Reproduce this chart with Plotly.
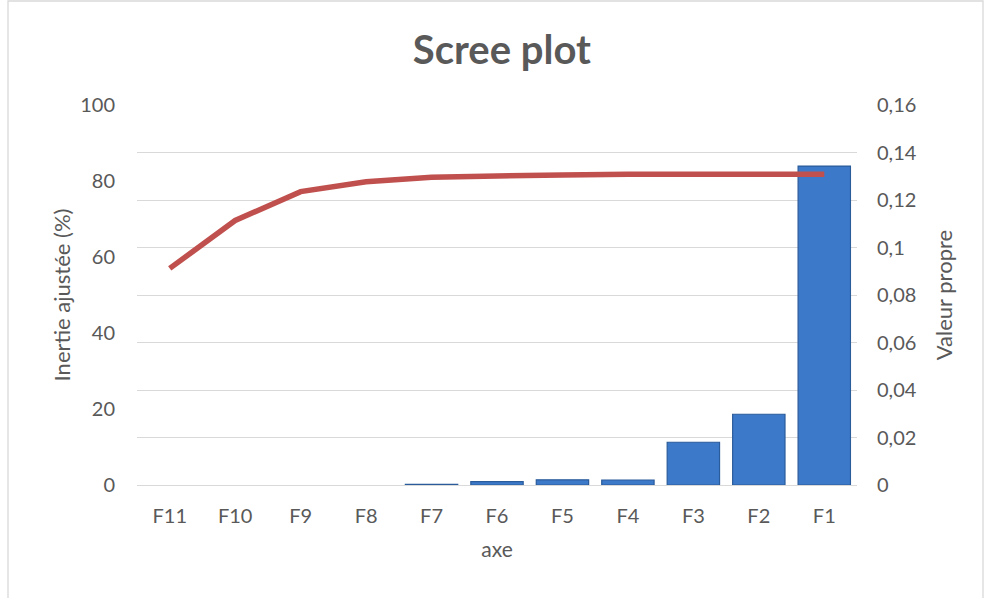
import plotly.graph_objects as go

categories = ["F11", "F10", "F9", "F8", "F7", "F6", "F5", "F4", "F3", "F2", "F1"]
valeur_propre = [0.0, 0.0, 0.0, 0.0, 0.0003, 0.0014, 0.0022, 0.0021, 0.0180, 0.0298, 0.1343]
inertie_ajustee = [57.0, 69.6, 77.2, 79.8, 81.0, 81.4, 81.6, 81.8, 81.8, 81.8, 81.8]

right_tickvals = [0, 0.02, 0.04, 0.06, 0.08, 0.1, 0.12, 0.14, 0.16]
right_ticktext = ["0", "0,02", "0,04", "0,06", "0,08", "0,1", "0,12", "0,14", "0,16"]
left_tickvals = [0, 20, 40, 60, 80, 100]

FONT = "Lato"
GREY = "#595959"

bar_line_widths = [1.2 if v > 0 else 0 for v in valeur_propre]

fig = go.Figure()
fig.add_trace(go.Bar(
    x=categories, y=valeur_propre, name="Valeur propre",
    marker=dict(color="#3C7AC9", line=dict(color="#2A5B9A", width=bar_line_widths)),
    yaxis="y",
))
fig.add_trace(go.Scatter(
    x=categories, y=inertie_ajustee, name="Inertie ajustée (%)",
    mode="lines", line=dict(color="#C0504D", width=5.5),
    yaxis="y2",
))

fig.update_layout(
    width=984, height=598,
    margin=dict(l=137, r=127, t=105, b=113),
    paper_bgcolor="white", plot_bgcolor="white",
    showlegend=False,
    bargap=0.2,
    separators=",.",
    font=dict(family=FONT, color=GREY, size=20),
    title=dict(text="<b>Scree plot</b>", x=0.51, xanchor="center", y=0.917, yanchor="middle",
               font=dict(family=FONT, size=40, color=GREY)),
    xaxis=dict(
        type="category", showgrid=False, showline=False, zeroline=False, ticks="",
        tickfont=dict(size=20, color=GREY), ticklabelstandoff=17,
        title=dict(text="axe", font=dict(size=21, color=GREY), standoff=16),
    ),
    yaxis=dict(
        side="right", range=[0, 0.16], tickvals=right_tickvals, ticktext=right_ticktext,
        showgrid=True, gridcolor="#D9D9D9", gridwidth=1.3, zeroline=True, zerolinecolor="#D9D9D9",
        zerolinewidth=1.3, showline=False, ticks="", ticklabelstandoff=19,
        tickfont=dict(size=20, color=GREY),
        title=dict(text="Valeur propre", font=dict(size=22, color=GREY), standoff=20),
    ),
    yaxis2=dict(
        side="left", overlaying="y", range=[0, 100], tickvals=left_tickvals,
        showgrid=False, zeroline=False, showline=False, ticks="", ticklabelstandoff=21,
        tickfont=dict(size=20, color=GREY),
        title=dict(text="Inertie ajustée (%)", font=dict(size=22, color=GREY), standoff=3),
    ),
    shapes=[dict(type="rect", xref="paper", yref="paper",
                 x0=(8 - 137) / 720, x1=(983 - 137) / 720,
                 y0=(485 - 603) / 380, y1=(485 - 1) / 380,
                 line=dict(color="#D9D9D9", width=1.3), fillcolor="rgba(0,0,0,0)", layer="below")],
)

fig.write_html("out.html", config={"displayModeBar": False},
               post_script="document.body.style.margin='0';document.body.style.overflow='hidden';")
